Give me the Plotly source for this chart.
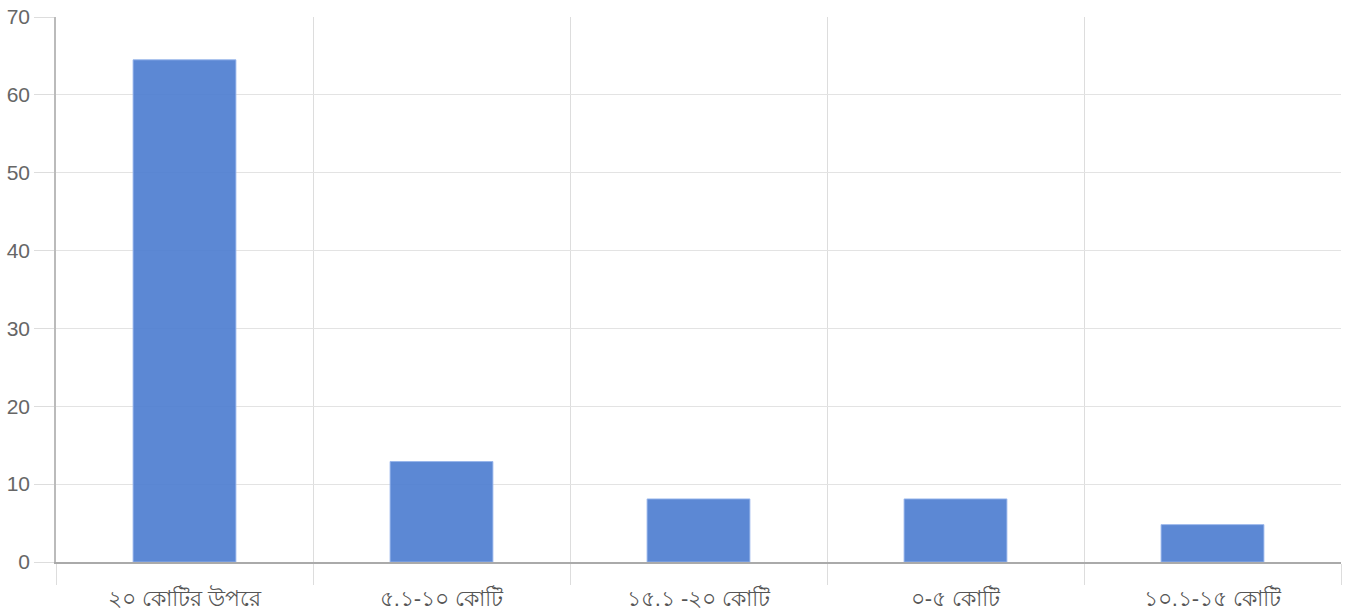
import plotly.graph_objects as go

categories = ["২০ কোটির উপরে", "৫.১-১০ কোটি", "১৫.১ -২০ কোটি", "০-৫ কোটি", "১০.১-১৫ কোটি"]
values = [64.5, 12.9, 8.1, 8.1, 4.8]
y_ticks = [0, 10, 20, 30, 40, 50, 60, 70]

fig = go.Figure(
    go.Bar(
        x=categories,
        y=values,
        width=0.4,
        marker=dict(color="rgba(78,126,208,0.92)", line=dict(color="rgba(150,180,235,0.9)", width=1)),
    )
)

fig.update_layout(
    width=1357,
    height=612,
    margin=dict(l=56, r=16, t=17, b=50),
    paper_bgcolor="white",
    plot_bgcolor="white",
    showlegend=False,
    font=dict(family="Arial, 'Liberation Sans', sans-serif", color="#666666", size=19),
)

fig.update_xaxes(
    type="category",
    tickson="boundaries",
    ticks="outside",
    ticklen=21,
    tickcolor="#dddddd",
    showgrid=True,
    gridcolor="#dddddd",
    showline=True,
    linecolor="#aaaaaa",
    linewidth=1.5,
    tickfont=dict(size=22, color="#555555"),
    ticklabelstandoff=16,
    automargin=False,
)

fig.update_yaxes(
    range=[0, 70],
    tickvals=y_ticks,
    ticks="outside",
    ticklen=20,
    tickcolor="#dddddd",
    showgrid=True,
    gridcolor="#e3e3e3",
    zeroline=False,
    showline=True,
    linecolor="#bbbbbb",
    linewidth=1.5,
    tickfont=dict(size=21, color="#666666"),
    ticklabelstandoff=0,
    automargin=False,
)

fig.write_html("out.html")
